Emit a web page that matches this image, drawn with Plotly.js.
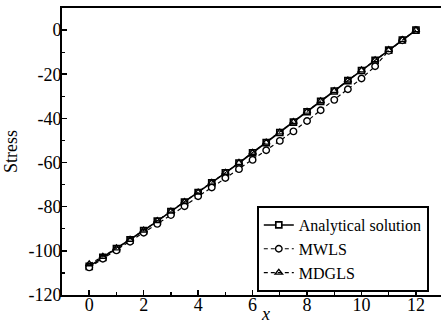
<!DOCTYPE html>
<html><head><meta charset="utf-8">
<script src="https://cdn.plot.ly/plotly-3.0.1.min.js"></script>
<style>html,body{margin:0;padding:0;background:#fff}#chart{width:441px;height:327px}</style>
</head><body><div id="chart"></div>
<script>
const xValues = [0,0.5,1,1.5,2,2.5,3,3.5,4,4.5,5,5.5,6,6.5,7,7.5,8,8.5,9,9.5,10,10.5,11,11.5,12];
const analytical = [-107,-103,-99,-95,-90.8,-86.5,-82.2,-77.9,-73.6,-69.2,-64.7,-60.2,-55.6,-51,-46.4,-41.7,-37,-32.3,-27.6,-22.9,-18.3,-13.7,-9.1,-4.5,0];
const mwls = [-107.5,-103.6,-99.8,-95.9,-91.8,-87.8,-83.8,-79.8,-75.3,-71.3,-67.0,-63.0,-58.8,-54.4,-50.2,-45.9,-41.2,-36.3,-31.6,-26.8,-21.9,-16.4,-9.4,-4.6,0];
const mdgls = [-106,-102.6,-98.8,-94.9,-90.7,-86.4,-82.1,-77.8,-73.5,-69.1,-64.6,-60.1,-55.5,-50.9,-46.3,-41.6,-36.9,-32.2,-27.5,-22.8,-18.2,-13.6,-9.0,-4.4,0];
const seriesNames = ['Analytical solution','MWLS','MDGLS'];
const xTickVals = [0,2,4,6,8,10,12];
const xTickText = ['0','2','4','6','8','10','12'];
const yTickVals = [0,-20,-40,-60,-80,-100,-120];
const yTickText = ['0','-20','-40','-60','-80','-100','-120'];

const FONT = '"Liberation Serif", "Times New Roman", serif';

const traces = [
  {x:xValues, y:analytical, name:seriesNames[0], mode:'lines+markers',
   line:{color:'#000', width:1.6, dash:'solid'},
   marker:{symbol:'square', size:6, color:'#fff', line:{color:'#000', width:1.7}}},
  {x:xValues, y:mwls, name:seriesNames[1], mode:'lines+markers',
   line:{color:'#000', width:1.2, dash:'4px,3px'},
   marker:{symbol:'circle', size:6.5, color:'#fff', line:{color:'#000', width:1.4}}},
  {x:xValues, y:mdgls, name:seriesNames[2], mode:'lines+markers',
   line:{color:'#000', width:1.2, dash:'4px,3px'},
   marker:{symbol:'triangle-up-open', size:6.5, color:'#000', line:{color:'#000', width:1.4}}}
];

const layout = {
  width:441, height:327,
  margin:{l:62, r:0, t:8, b:32},
  paper_bgcolor:'#fff', plot_bgcolor:'#fff',
  font:{family:FONT, size:18, color:'#000'},
  showlegend:true,
  legend:{x:0.514, y:0.31, xanchor:'left', yanchor:'top',
    bgcolor:'#fff', bordercolor:'#000', borderwidth:2,
    font:{family:FONT, size:16, color:'#000'}, tracegroupgap:0},
  xaxis:{range:[-1,12.92], tickmode:'array', tickvals:xTickVals, ticktext:xTickText,
    ticks:'inside', ticklen:5, tickwidth:1.5, tickcolor:'#000', ticklabelstandoff:-8,
    minor:{tickmode:'array', tickvals:[-1,1,3,5,7,9,11], ticks:'inside', ticklen:3, tickwidth:1.2, tickcolor:'#000'},
    showline:true, linecolor:'#000', linewidth:2, mirror:true,
    showgrid:false, zeroline:false,
    tickfont:{family:FONT, size:18, color:'#000'}},
  yaxis:{range:[-120,10], tickmode:'array', tickvals:yTickVals, ticktext:yTickText,
    ticks:'inside', ticklen:5, tickwidth:1.5, tickcolor:'#000', ticklabelstandoff:-5,
    minor:{tickmode:'array', tickvals:[-10,-30,-50,-70,-90,-110], ticks:'inside', ticklen:3, tickwidth:1.2, tickcolor:'#000'},
    showline:true, linecolor:'#000', linewidth:2, mirror:false,
    showgrid:false, zeroline:false,
    tickfont:{family:FONT, size:18, color:'#000'},
    title:{text:'Stress', font:{family:FONT, size:18, color:'#000'}, standoff:6}},
  annotations:[
    {text:'<i>x</i>', xref:'paper', yref:'paper', x:0.536, y:-0.108, xanchor:'center', yanchor:'bottom',
     showarrow:false, font:{family:FONT, size:18, color:'#000'}}
  ]
};

Plotly.newPlot('chart', traces, layout, {displayModeBar:false, staticPlot:true});
</script></body></html>
